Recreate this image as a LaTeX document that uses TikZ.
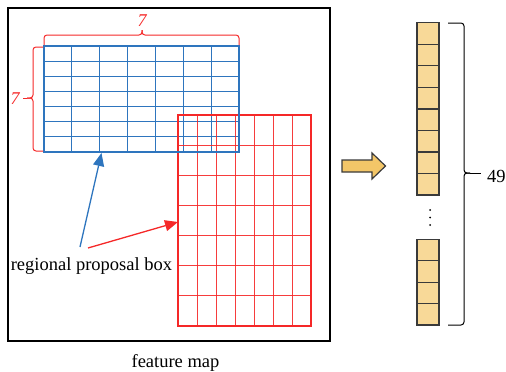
\documentclass[tikz,border=0pt]{standalone}
\usepackage{fontspec}
\setmainfont{Liberation Serif}
\usetikzlibrary{arrows.meta}
\definecolor{gridblue}{RGB}{46,117,190}
\definecolor{gridred}{RGB}{245,40,40}
\definecolor{cellfill}{RGB}{248,217,152}
\definecolor{arrowfill}{RGB}{243,198,104}
\definecolor{cellline}{RGB}{58,58,58}
\tikzset{
  txt/.style={inner sep=0pt, font=\fontsize{18.5}{20}\selectfont},
  dimtxt/.style={inner sep=0pt, text=gridred, font=\fontsize{18}{20}\selectfont\itshape},
  bluebrd/.style={draw=gridblue, line width=2.6pt},
  blueln/.style={draw=gridblue, line width=1.1pt},
  redbrd/.style={draw=gridred, line width=2.2pt},
  redln/.style={draw=gridred, line width=1pt, draw opacity=0.9},
  cell/.style={draw=cellline, fill=cellfill, line width=1.3pt},
  brc/.style={line width=1pt, rounded corners=3pt},
  ptr/.style={line width=1.3pt, -{Triangle[length=13pt,width=11pt]}}
}
\begin{document}
\begin{tikzpicture}[x=1pt,y=-1pt]
\useasboundingbox (0,0) rectangle (506,372);

% feature map frame
\draw[line width=2pt] (8,8) rectangle (330,341);

% blue 7x7 proposal grid (inner lines)
\foreach \i in {1,...,6} {
  \draw[blueln] ({44+\i*195/7},46) -- ({44+\i*195/7},152);
  \draw[blueln] (44,{46+\i*106/7}) -- (239,{46+\i*106/7});
}

% red 7x7 proposal grid
\foreach \i in {1,...,6} {
  \draw[redln] ({178+\i*133/7},115) -- ({178+\i*133/7},326);
  \draw[redln] (178,{115+\i*211/7}) -- (311,{115+\i*211/7});
}
\draw[redbrd] (178,115) rectangle (311,326);

% blue border on top
\draw[bluebrd] (44,46) rectangle (239,152);

% braces marking the 7 columns and 7 rows
\draw[brc, gridred] (44,45) -- (44,35) -- (142,35) -- (142,30);
\draw[brc, gridred] (239,45) -- (239,35) -- (142,35) -- (142,30);
\node[dimtxt, anchor=base] (colnum) at (142,26) {7};
\draw[brc, gridred] (43,47) -- (33,47) -- (33,98) -- (27,98);
\draw[brc, gridred] (43,151) -- (33,151) -- (33,98) -- (27,98);
\draw[gridred, line width=1pt] (27,98) -- (23,98);
\node[dimtxt, anchor=base] (rownum) at (15,104) {7};

% label and its pointers
\node[txt, anchor=base] (lbl) at (91.5,270) {regional proposal box};
\coordinate (bluefoot) at (80,247);
\coordinate (bluetip) at (101.5,153);
\coordinate (redfoot) at (88,248);
\coordinate (redtip) at (178,222);
\draw[ptr, gridblue] (bluefoot) -- (bluetip);
\draw[ptr, gridred] (redfoot) -- (redtip);

\node[txt, anchor=base] (fm) at (175.5,367) {feature map};

% fat arrow
\draw[draw=cellline, fill=arrowfill, line width=1.2pt, line join=miter]
  (342,160) -- (372,160) -- (372,153) -- (385.5,166) -- (372,179) -- (372,172) -- (342,172) -- cycle;

% flattened vector of 49 cells
\foreach \k in {0,...,7}
  \draw[cell] (417,{22.7+\k*21.55}) rectangle (439,{22.7+(\k+1)*21.55});
\foreach \k in {0,...,3}
  \draw[cell] (417,{239.3+\k*21.45}) rectangle (439,{239.3+(\k+1)*21.45});
\foreach \yy in {210,217.5,225}
  \fill (430,\yy) circle (1pt);

% brace for the 49 values
\draw[brc] (448,23) -- (464,23) -- (464,173) -- (470,173);
\draw[brc] (448,325) -- (464,325) -- (464,173) -- (470,173);
\draw[line width=1pt] (470,173) -- (481,173);
\node[txt, anchor=base west] (cnt) at (487,182) {49};
\end{tikzpicture}
\end{document}
